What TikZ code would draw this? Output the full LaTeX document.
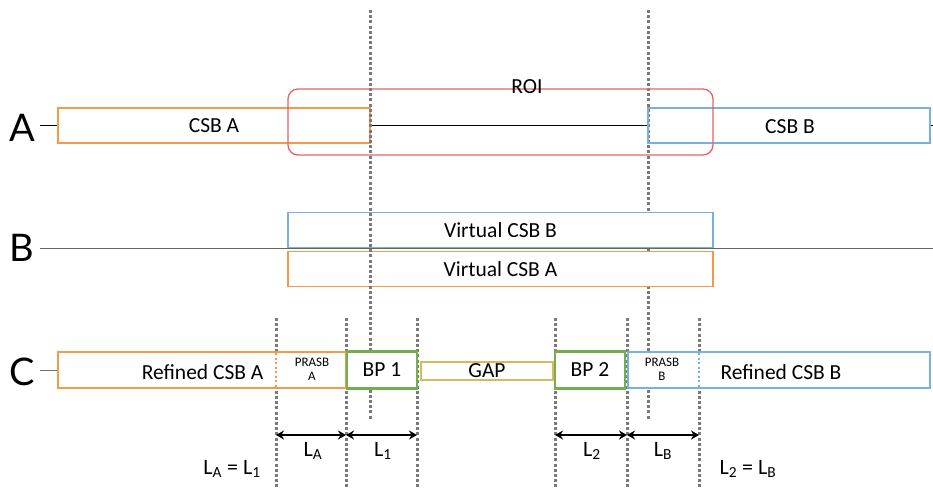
\documentclass[tikz,border=0pt]{standalone}
\usepackage{fontspec}
\setmainfont{Carlito}
\newfontfamily\bigfont{Lato}
\usetikzlibrary{arrows.meta}
\definecolor{cOrange}{HTML}{F39A4C}
\definecolor{cBlue}{HTML}{78B0E0}
\definecolor{cRed}{HTML}{EB6161}
\definecolor{cGreen}{HTML}{74AE4E}
\definecolor{cGold}{HTML}{D8BA5E}
\definecolor{cDot}{HTML}{7A7A7A}
\begin{document}
\begin{tikzpicture}[x=1pt,y=-1pt,
  txt/.style={font=\fontsize{21.5}{24}\selectfont},
  box/.style={draw, line width=1.5pt, inner sep=0pt, txt},
  obox/.style={box, draw=cOrange},
  bbox/.style={box, draw=cBlue},
  gbox/.style={box, draw=cGreen, line width=2.6pt},
  rowlab/.style={font=\bigfont\fontsize{38}{40}\selectfont},
  vdots/.style={draw=cDot, line width=3pt, dash pattern=on 3pt off 2.2pt},
  meas/.style={<->, >={Stealth[length=8pt,width=9pt]}, line width=1.4pt},
  lab/.style={font=\fontsize{22}{24}\selectfont},
  small/.style={font=\fontsize{13}{14}\selectfont, align=center},
  thin/.style={line width=0.8pt}
]
\useasboundingbox (0,0) rectangle (933,488);

% long dotted vertical at 648 (behind row B and C boxes)
\coordinate (d2t) at (648,10); \coordinate (d2b) at (648,420);
\draw[vdots] (d2t) -- (d2b);

% Row A
\node[rowlab] (la) at (22,128) {A};
\node[obox, minimum width=312pt, minimum height=35pt] (csba) at (214,125.5) {CSB A};
\node[bbox, minimum width=282pt, minimum height=35pt] (csbb) at (789,125.5) {};
\node[txt] (csbbt) at (790,127) {CSB B};
\coordinate (astart) at (40,125.5);
\coordinate (aend) at (933,125.5);
\draw[thin] (astart) -- (csba.west);
\draw[thin] (csba.east) -- (csbb.west);
\draw[thin] (csbb.east) -- (aend);
\node[draw=cRed, line width=1.3pt, rounded corners=10pt, minimum width=425pt, minimum height=66pt] (roi) at (500.5,122) {};
\node[txt] (roit) at (527,87) {ROI};

% Row B
\node[rowlab] (lb) at (22,248) {B};
\coordinate (bstart) at (40,248);
\coordinate (bend) at (933,248);
\draw[line width=1pt, draw=black!60] (bstart) -- (bend);
\node[bbox, fill=white, minimum width=425pt, minimum height=35pt] (vb) at (500.5,230) {Virtual CSB B};
\node[obox, fill=white, minimum width=425pt, minimum height=35pt] (va) at (500.5,269) {Virtual CSB A};

% long dotted vertical at 370 (over row B, behind row C boxes)
\coordinate (d1t) at (370,10); \coordinate (d1b) at (370,420);
\draw[vdots] (d1t) -- (d1b);

% short dotted verticals
\foreach \n/\x in {s1/276,s2/346,s3/417,s4/555,s5/627,s6/699}{
  \coordinate (\n t) at (\x,318);
  \coordinate (\n b) at (\x,488);
  \coordinate (\n m) at (\x,435);
  \draw[vdots] (\n t) -- (\n b);
}

% Row C
\node[rowlab] (lc) at (22,372) {C};
\coordinate (cstart) at (40,370);
\node[obox, fill=white, minimum width=288pt, minimum height=36pt] (rca) at (202,370) {};
\node[txt, anchor=east] (rcat) at (267,372) {Refined CSB A};
\draw[line width=1pt, draw=black!55] (cstart) -- (rca.west);
\draw[draw=cOrange, line width=2pt, dash pattern=on 2pt off 2.5pt] (276,353) -- (276,387);
\node[small] (pa) at (312,369) {PRASB\\A};

\node[gbox, fill=white, minimum width=70pt, minimum height=37pt] (bp1) at (382,370) {BP 1};
\node[draw=cGold, fill=white, line width=1.3pt, minimum width=132pt, minimum height=18pt, inner sep=0pt, txt] (gap) at (487,371) {GAP};
\node[gbox, fill=white, minimum width=70pt, minimum height=37pt] (bp2) at (590,370) {BP 2};

\node[bbox, fill=white, minimum width=302pt, minimum height=36pt] (rcb) at (779,370) {};
\node[txt] (rcbt) at (781,372) {Refined CSB B};
\draw[draw=cBlue, line width=2pt, dash pattern=on 2pt off 2.5pt] (699,353) -- (699,387);
\node[small] (pb) at (662,369) {PRASB\\B};

% measures
\draw[meas] (s1m) -- (s2m);
\draw[meas] (s2m) -- (s3m);
\draw[meas] (s4m) -- (s5m);
\draw[meas] (s5m) -- (s6m);
\node[lab] (lA) at (313,451) {L\textsubscript{A}};
\node[lab] (l1) at (383,451) {L\textsubscript{1}};
\node[lab] (l2) at (592,451) {L\textsubscript{2}};
\node[lab] (lB) at (663,451) {L\textsubscript{B}};
\node[lab] (eq1) at (232,469) {L\textsubscript{A} = L\textsubscript{1}};
\node[lab] (eq2) at (748,469) {L\textsubscript{2} = L\textsubscript{B}};
\end{tikzpicture}
\end{document}
